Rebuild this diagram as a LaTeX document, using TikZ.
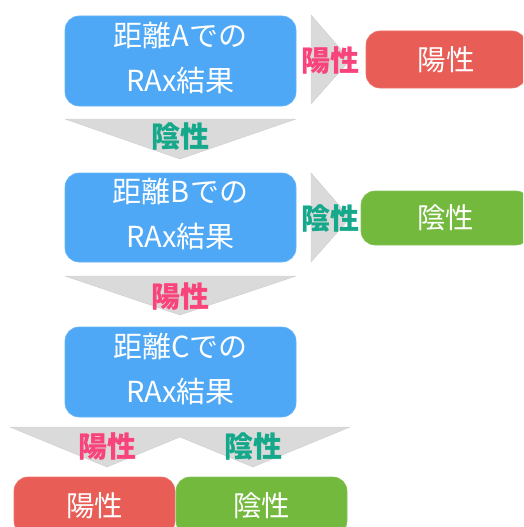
\documentclass[tikz,border=0pt]{standalone}
\usepackage{fontspec}
\newfontfamily\jp{Noto Sans CJK JP}
\usetikzlibrary{calc}
\definecolor{boxblue}{HTML}{4EA8F6}
\definecolor{resred}{HTML}{E85D56}
\definecolor{resgreen}{HTML}{72B93D}
\definecolor{lblpink}{HTML}{F9447B}
\definecolor{lblteal}{HTML}{16A88A}
\definecolor{arrowgray}{HTML}{DADADA}
\definecolor{arrowedge}{HTML}{CCCCCC}
\tikzset{
  stepbox/.style={rectangle, rounded corners=14pt, fill=boxblue, draw=boxblue!85!white, line width=0.6pt,
    minimum width=231pt, text=white, align=center, inner sep=0pt,
    font=\jp\fontsize{29}{45}\selectfont},
  resbox/.style={rectangle, rounded corners=14pt, draw=#1!85!white, line width=0.6pt, fill=#1, text=white,
    inner sep=0pt, font=\jp\fontsize{28.5}{32}\selectfont},
  flowarrow/.style={fill=arrowgray, draw=arrowedge, line width=0.4pt},
  poslbl/.style={text=lblpink, inner sep=0pt, font=\jp\bfseries\fontsize{29}{32}\selectfont},
  neglbl/.style={text=lblteal, inner sep=0pt, font=\jp\bfseries\fontsize{29}{32}\selectfont},
  steptext/.style={text=white, align=center, inner sep=0pt, font=\jp\fontsize{29}{45}\selectfont},
}
\begin{document}
\begin{tikzpicture}[x=1pt,y=-1pt]
\useasboundingbox (0,0) rectangle (523,527);
\clip (0,0) rectangle (523,527);
% main step boxes
\node[stepbox, minimum height=90pt] (boxA) at (180.5,61) {};
\node[stepbox, minimum height=89pt] (boxB) at (180.5,217.5) {};
\node[stepbox, minimum height=90pt] (boxC) at (180.5,372) {};
\node[steptext, yshift=3pt] (tA) at (boxA.center) {距離Aでの\\RAx結果};
\node[steptext, yshift=3pt] (tB) at (boxB.center) {距離Bでの\\RAx結果};
\node[steptext, yshift=3pt] (tC) at (boxC.center) {距離Cでの\\RAx結果};
% result boxes
\node[resbox=resred, minimum width=160pt, minimum height=57pt] (resA) at (446,59.5) {陽性};
\node[resbox=resgreen, minimum width=169pt, minimum height=54pt] (resB) at (445.5,218) {陰性};
\node[resbox=resred, minimum width=161pt, minimum height=58pt] (resC1) at (94.5,506) {陽性};
\node[resbox=resgreen, minimum width=171pt, minimum height=58pt] (resC2) at (261.5,506) {陰性};
% arrow geometry
\coordinate (dA1) at (65,119);  \coordinate (dA2) at (296,119); \coordinate (dA3) at (180,159);
\coordinate (dB1) at (65,276);  \coordinate (dB2) at (296,276); \coordinate (dB3) at (180,315);
\coordinate (rA1) at (311,15);  \coordinate (rA2) at (311,104); \coordinate (rA3) at (350,60);
\coordinate (rB1) at (311,173); \coordinate (rB2) at (311,262); \coordinate (rB3) at (350,218);
\coordinate (s1) at (10,427); \coordinate (s2) at (350,427); \coordinate (s3) at (253,467);
\coordinate (s4) at (180,437); \coordinate (s5) at (107,467);
\draw[flowarrow] (dA1) -- (dA2) -- (dA3) -- cycle;
\draw[flowarrow] (dB1) -- (dB2) -- (dB3) -- cycle;
\draw[flowarrow] (rA1) -- (rA2) -- (rA3) -- cycle;
\draw[flowarrow] (rB1) -- (rB2) -- (rB3) -- cycle;
\draw[flowarrow] (s1) -- (s2) -- (s3) -- (s4) -- (s5) -- cycle;
% labels
\node[neglbl] (lA) at (180,137) {陰性};
\node[poslbl] (lB) at (180,297) {陽性};
\node[poslbl] (lrA) at (330,61) {陽性};
\node[neglbl] (lrB) at (330,219) {陰性};
\node[poslbl] (lC1) at (107,447) {陽性};
\node[neglbl] (lC2) at (253,447) {陰性};
\end{tikzpicture}
\end{document}
